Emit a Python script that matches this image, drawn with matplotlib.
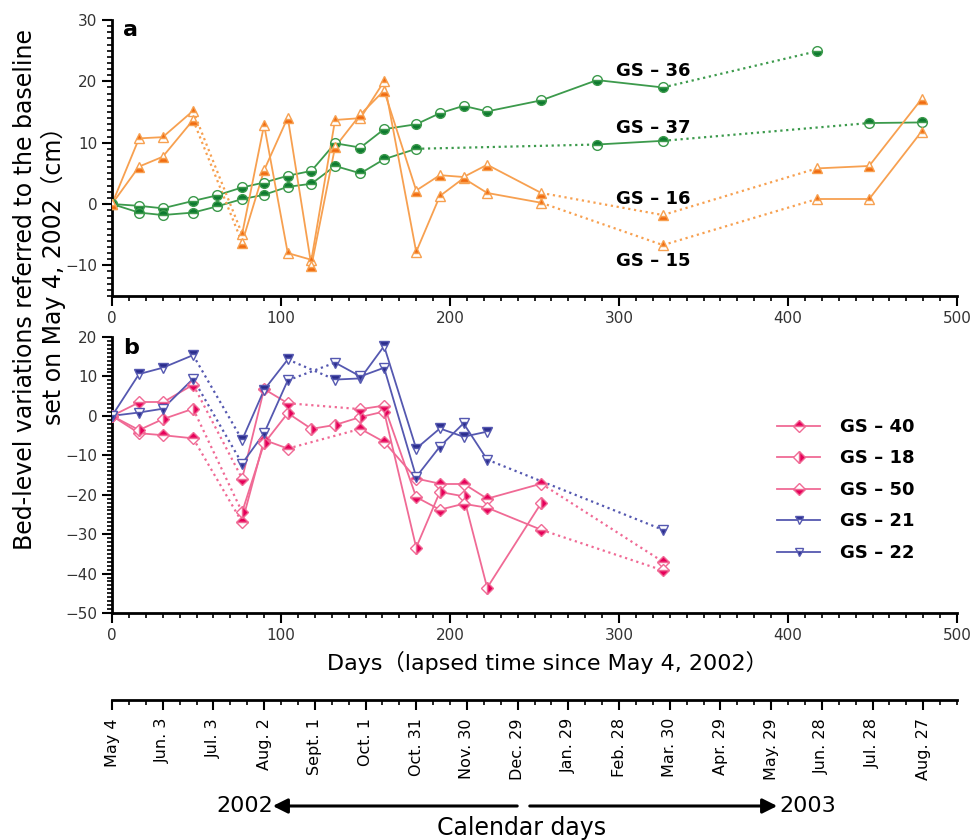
import matplotlib
matplotlib.use('Agg')
import matplotlib.pyplot as plt
from matplotlib.lines import Line2D
from matplotlib.ticker import MultipleLocator

plt.rcParams['font.family'] = ['DejaVu Sans', 'Noto Sans CJK SC']

# ---- panel a data (days since May 4, 2002 ; bed level in cm) ----
days_15 = [0, 16, 30, 48, 77, 90, 104, 118, 132, 147, 161, 180, 194, 208, 222, 254, 326, 417, 448, 479]
gs15 = [0, 10.7, 10.9, 15.2, -4.9, 12.9, -8.0, -9.1, 13.7, 14.0, 20.0, -7.8, 1.3, 4.2, 1.8, 0.2, -6.7, 0.8, 0.8, 11.8]
gs16 = [0, 6.1, 7.7, 13.7, -6.3, 5.5, 14.1, -10.1, 9.3, 14.6, 18.5, 2.2, 4.7, 4.4, 6.4, 1.8, -1.8, 5.8, 6.2, 17.1]
dot_15 = [3, 15, 16]

days_36 = [0, 16, 30, 48, 62, 77, 90, 104, 118, 132, 147, 161, 180, 194, 208, 222, 254, 287, 326, 417]
gs36 = [0, -0.3, -0.7, 0.5, 1.4, 2.7, 3.5, 4.6, 5.4, 9.9, 9.2, 12.2, 13.0, 14.8, 16.0, 15.1, 16.9, 20.2, 19.0, 24.9]
dot_36 = [18]

days_37 = [0, 16, 30, 48, 62, 77, 90, 104, 118, 132, 147, 161, 180, 287, 326, 448, 479]
gs37 = [0, -1.4, -1.8, -1.4, -0.4, 0.8, 1.5, 2.8, 3.3, 6.2, 5.0, 7.3, 9.0, 9.7, 10.3, 13.2, 13.3]
dot_37 = [12, 14]

# ---- panel b data ----
days_21 = [0, 16, 30, 48, 77, 90, 104, 132, 147, 161, 180, 194, 208, 222]
gs21 = [0, 10.6, 12.2, 15.4, -6.1, 6.6, 14.3, 9.2, 9.5, 17.7, -8.3, -3.2, -5.3, -4.0]
dot_21 = [3, 6]

days_22 = [0, 16, 30, 48, 77, 90, 104, 132, 147, 161, 180, 194, 208, 222, 326]
gs22 = [0, 0.85, 1.8, 9.4, -12.1, -4.4, 9.0, 13.5, 10.0, 12.2, -15.5, -7.8, -1.9, -11.1, -28.9]
dot_22 = [3, 6, 13]

days_40 = [0, 16, 30, 48, 77, 90, 104, 147, 161, 180, 194, 208, 222, 254, 326]
gs40 = [0, -4.4, -4.9, -5.7, -27.0, -6.1, -8.3, -3.3, -6.6, -15.9, -17.2, -17.2, -21.0, -17.2, -37.0]
gs50 = [0, 3.4, 3.4, 7.9, -15.9, 6.8, 3.2, 1.7, 2.6, -20.6, -23.8, -22.3, -23.3, -28.9, -39.2]
dot_40 = [3, 6, 13]

days_18 = [0, 16, 30, 48, 77, 90, 104, 118, 132, 147, 161, 180, 194, 208, 222, 254]
gs18 = [0, -3.6, -0.85, 1.8, -24.4, -7.0, 0.7, -3.3, -2.3, -0.3, 1.1, -33.4, -19.3, -20.4, -43.6, -22.1]
dot_18 = [3]

# calendar axis
cal_days = list(range(0, 481, 30))
cal_labels = ['May 4', 'Jun. 3', 'Jul. 3', 'Aug. 2', 'Sept. 1', 'Oct. 1', 'Oct. 31', 'Nov. 30',
              'Dec. 29', 'Jan. 29', 'Feb. 28', 'Mar. 30', 'Apr. 29', 'May. 29', 'Jun. 28',
              'Jul. 28', 'Aug. 27']

OR_L, OR_M = '#F7A050', '#F06A10'
GR_L, GR_M = '#3C9A4C', '#0E7A30'
BL_L, BL_M = '#5558B0', '#2A2C8C'
PK_L, PK_M = '#F06A95', '#E6005A'


def draw(ax, x, y, dots, lc, mc, marker, fill, ms=7):
    for i in range(len(x) - 1):
        ls = ':' if i in dots else '-'
        lw = 1.6 if i in dots else 1.3
        ax.plot(x[i:i + 2], y[i:i + 2], color=lc, ls=ls, lw=lw, zorder=2)
    ax.plot(x, y, ls='none', marker=marker, ms=ms, fillstyle=fill, mfc=mc,
            mfcalt='white', mec=lc, mew=1.0, zorder=3)


def style(ax, ymin, ymax):
    ax.set_xlim(0, 500)
    ax.set_ylim(ymin, ymax)
    for s in ['top', 'right']:
        ax.spines[s].set_visible(False)
    for s in ['left', 'bottom']:
        ax.spines[s].set_linewidth(2)
    ax.xaxis.set_major_locator(MultipleLocator(100))
    ax.xaxis.set_minor_locator(MultipleLocator(10))
    ax.yaxis.set_major_locator(MultipleLocator(10))
    ax.yaxis.set_minor_locator(MultipleLocator(1))
    ax.tick_params(which='major', length=7, width=1.5, labelsize=11, colors='k',
                   labelcolor='#333333')
    ax.tick_params(which='minor', length=3.5, width=1.2)


fig = plt.figure(figsize=(9.74, 8.4), dpi=100)

W = 845 / 974
X0 = 112 / 974
ax_a = fig.add_axes([X0, 1 - 296 / 840, W, 276 / 840])
ax_b = fig.add_axes([X0, 1 - 613 / 840, W, 276 / 840])

draw(ax_a, days_36, gs36, dot_36, GR_L, GR_M, 'o', 'bottom')
draw(ax_a, days_37, gs37, dot_37, GR_L, GR_M, 'o', 'top')
draw(ax_a, days_15, gs15, dot_15, OR_L, OR_M, '^', 'top')
draw(ax_a, days_15, gs16, dot_15, OR_L, OR_M, '^', 'bottom')
style(ax_a, -15, 30)

for txt, xx, yy in [('GS – 36', 320, 21.7), ('GS – 37', 320, 12.4),
                    ('GS – 16', 320, 0.8), ('GS – 15', 320, -9.3)]:
    ax_a.text(xx, yy, txt, fontsize=13, fontweight='bold', ha='center', va='center')
ax_a.text(0.022, 0.963, 'a', transform=ax_a.transAxes, fontsize=16, fontweight='bold',
          va='center', ha='center')

draw(ax_b, days_40, gs40, dot_40, PK_L, PK_M, 'D', 'top', 6)
draw(ax_b, days_18, gs18, dot_18, PK_L, PK_M, 'D', 'right', 6)
draw(ax_b, days_40, gs50, dot_40, PK_L, PK_M, 'D', 'bottom', 6)
draw(ax_b, days_21, gs21, dot_21, BL_L, BL_M, 'v', 'top')
draw(ax_b, days_22, gs22, dot_22, BL_L, BL_M, 'v', 'bottom')
style(ax_b, -50, 20)
ax_b.text(0.023, 0.96, 'b', transform=ax_b.transAxes, fontsize=16, fontweight='bold',
          va='center', ha='center')

handles = []
for lab, lc, mc, m, f in [('GS – 40', PK_L, PK_M, 'D', 'top'), ('GS – 18', PK_L, PK_M, 'D', 'right'),
                          ('GS – 50', PK_L, PK_M, 'D', 'bottom'), ('GS – 21', BL_L, BL_M, 'v', 'top'),
                          ('GS – 22', BL_L, BL_M, 'v', 'bottom')]:
    handles.append(Line2D([], [], color=lc, lw=1.3, marker=m, ms=6, fillstyle=f, mfc=mc,
                          mfcalt='white', mec=lc, label=lab))
leg = ax_b.legend(handles=handles, loc='center left', bbox_to_anchor=(0.787, 0.446),
                  frameon=False, handlelength=2.4, handletextpad=1.1, labelspacing=0.75,
                  borderpad=0, borderaxespad=0, prop={'size': 13, 'weight': 'bold'})

fig.text(547 / 974, 1 - 662 / 840, 'Days（lapsed time since May 4, 2002）', fontsize=16,
         ha='center', va='center')
fig.text(25 / 974, 1 - 290 / 840, 'Bed-level variations referred to the baseline', rotation=90,
         fontsize=17, ha='center', va='center')
fig.text(53 / 974, 1 - 270 / 840, 'set on May 4, 2002（cm）', rotation=90,
         fontsize=17, ha='center', va='center')

# calendar axis
ax_c = fig.add_axes([X0, 1 - 700 / 840, W, 0.0001])
ax_c.set_xlim(0, 500)
ax_c.set_yticks([])
for s in ['top', 'right', 'left']:
    ax_c.spines[s].set_visible(False)
ax_c.spines['bottom'].set_linewidth(2)
ax_c.set_xticks(cal_days)
ax_c.set_xticklabels(cal_labels, rotation=90, fontsize=11.5)
ax_c.xaxis.set_minor_locator(MultipleLocator(10))
ax_c.tick_params(which='major', length=7, width=1.5, pad=6)
ax_c.tick_params(which='minor', length=3.5, width=1.2)

ya = 1 - 806 / 840
ax_c.annotate('', xy=(270 / 974, ya), xytext=(520 / 974, ya), xycoords='figure fraction',
              arrowprops=dict(arrowstyle='-|>', lw=2.2, color='k', mutation_scale=22))
ax_c.annotate('', xy=(780 / 974, ya), xytext=(527 / 974, ya), xycoords='figure fraction',
              arrowprops=dict(arrowstyle='-|>', lw=2.2, color='k', mutation_scale=22))
fig.text(245 / 974, ya, '2002', fontsize=16, ha='center', va='center')
fig.text(808 / 974, ya, '2003', fontsize=16, ha='center', va='center')
fig.text(522 / 974, 1 - 828 / 840, 'Calendar days', fontsize=17, ha='center', va='center')

fig.savefig('out.png', dpi=100)
